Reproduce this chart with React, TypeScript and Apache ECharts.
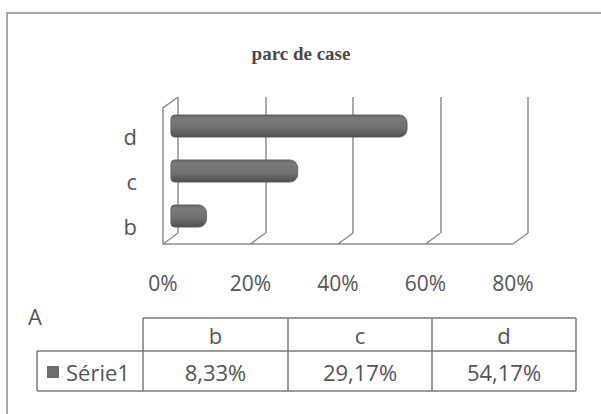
import React, { useEffect, useRef } from "react";
import * as echarts from "echarts";

const chartTitle = "parc de case";
const tableCorner = "A";
const seriesName = "Série1";
const categories = ["b", "c", "d"];
const values = [0.0833, 0.2917, 0.5417];
const axisMin = 0;
const axisMax = 0.8;
const axisInterval = 0.2;

const FONT = "'Open Sans', 'Liberation Sans', sans-serif";
const TXT = "#555555";
const LINE = "#8e8e8e";

const pct = (v: number) => Math.round(v * 100) + "%";
const pct2 = (v: number) => (v * 100).toFixed(2).replace(".", ",") + "%";

export default function App() {
  const ref = useRef<HTMLDivElement>(null);
  useEffect(() => {
    const chart = echarts.init(ref.current!, null, { renderer: "svg" });
    const barGradient = new echarts.graphic.LinearGradient(0, 0, 0, 1, [
      { offset: 0, color: "#676767" },
      { offset: 0.18, color: "#7c7c7c" },
      { offset: 0.6, color: "#6f6f6f" },
      { offset: 1, color: "#505050" },
    ]);
    const hiddenVal = {
      type: "value",
      min: axisMin,
      max: axisMax,
      interval: axisInterval,
      axisLine: { show: false },
      axisTick: { show: false },
      axisLabel: { show: false },
      splitLine: { show: false },
    };
    const hiddenCat = {
      type: "category",
      data: categories,
      axisLine: { show: false },
      axisTick: { show: false },
      axisLabel: { show: false },
      splitLine: { show: false },
    };
    chart.setOption({
      animation: false,
      backgroundColor: "#ffffff",
      title: {
        text: chartTitle,
        left: 296,
        top: 39,
        textAlign: "center",
        textStyle: {
          fontFamily: "'Liberation Serif', 'DejaVu Serif', serif",
          fontWeight: "bold",
          fontSize: 19,
          color: "#4a4a4a",
        },
      },
      grid: [
        { left: 170.5, top: 103.5, width: 350, height: 135 },
        { left: 178, top: 97, width: 350, height: 136 },
        { left: 163, top: 108, width: 350, height: 136 },
        { left: 163, top: 113, width: 350, height: 136 },
      ],
      xAxis: [
        { ...hiddenVal, gridIndex: 0 },
        {
          ...hiddenVal,
          gridIndex: 1,
          splitLine: { show: true, lineStyle: { color: LINE, width: 1.5 } },
        },
        {
          ...hiddenVal,
          gridIndex: 2,
          axisLine: { show: true, lineStyle: { color: LINE, width: 1.5 } },
          axisLabel: {
            show: true,
            margin: 28,
            formatter: (v: number) => pct(v),
            fontFamily: FONT,
            fontSize: 21,
            color: TXT,
          },
        },
        { ...hiddenVal, gridIndex: 3 },
      ],
      yAxis: [
        { ...hiddenCat, gridIndex: 0 },
        { ...hiddenCat, gridIndex: 1 },
        { ...hiddenCat, gridIndex: 2 },
        {
          ...hiddenCat,
          gridIndex: 3,
          axisLabel: {
            show: true,
            margin: 26,
            fontFamily: FONT,
            fontSize: 22,
            color: TXT,
          },
        },
      ],
      series: [
        {
          type: "bar",
          name: seriesName,
          xAxisIndex: 0,
          yAxisIndex: 0,
          data: values,
          barWidth: 23,
          itemStyle: { color: barGradient, borderRadius: [4, 8, 8, 4], borderColor: "#5a5a5a", borderWidth: 0.8 },
        },
      ],
    });

    // 3D wall / floor decorations tied to the axis scales
    const ticks: number[] = [];
    for (let v = axisMin; v <= axisMax + 1e-9; v += axisInterval) ticks.push(v);
    const backY0 = 97, backY1 = 233, frontY0 = 108, frontY1 = 244;
    const g: any[] = [];
    const lineStyle = { stroke: LINE, lineWidth: 1.5, fill: null };
    ticks.forEach((v) => {
      const xb = chart.convertToPixel({ xAxisIndex: 1 }, v) as number;
      const xf = chart.convertToPixel({ xAxisIndex: 2 }, v) as number;
      g.push({ type: "line", shape: { x1: xb, y1: backY1, x2: xf, y2: frontY1 }, style: lineStyle, z: 1 });
    });
    const xb0 = chart.convertToPixel({ xAxisIndex: 1 }, axisMin) as number;
    const xf0 = chart.convertToPixel({ xAxisIndex: 2 }, axisMin) as number;
    g.push({ type: "polyline", shape: { points: [[xf0, frontY1], [xf0, frontY0], [xb0, backY0]] }, style: lineStyle, z: 1 });

    // outer frame
    g.push({ type: "polyline", shape: { points: [[7, 414], [7, 13], [601, 13]] }, style: { stroke: "#8a8a8a", lineWidth: 1.5, fill: null } });

    // data table
    const colX = [143, 288, 432, 576];
    const rowY = [318, 351, 391];
    const leftX = 37;
    const tl = { stroke: "#7a7a7a", lineWidth: 1.5, fill: null };
    g.push({ type: "line", shape: { x1: colX[0], y1: rowY[0], x2: colX[3], y2: rowY[0] }, style: tl });
    g.push({ type: "line", shape: { x1: leftX, y1: rowY[1], x2: colX[3], y2: rowY[1] }, style: tl });
    g.push({ type: "line", shape: { x1: leftX, y1: rowY[2], x2: colX[3], y2: rowY[2] }, style: tl });
    g.push({ type: "line", shape: { x1: leftX, y1: rowY[1], x2: leftX, y2: rowY[2] }, style: tl });
    colX.forEach((x) => g.push({ type: "line", shape: { x1: x, y1: rowY[0], x2: x, y2: rowY[2] }, style: tl }));
    const tfont = (size: number) => ({ fontFamily: FONT, fontSize: size, fill: TXT });
    categories.forEach((c, i) => {
      const cx = (colX[i] + colX[i + 1]) / 2;
      g.push({ type: "text", x: cx, y: (rowY[0] + rowY[1]) / 2, style: { text: c, ...tfont(22), align: "center", verticalAlign: "middle" } });
      g.push({ type: "text", x: cx, y: (rowY[1] + rowY[2]) / 2 + 1, style: { text: pct2(values[i]), ...tfont(22), align: "center", verticalAlign: "middle" } });
    });
    g.push({ type: "rect", shape: { x: 47, y: 366, width: 12, height: 12 }, style: { fill: "#6e6e6e" } });
    g.push({ type: "text", x: 66, y: (rowY[1] + rowY[2]) / 2 + 1, style: { text: seriesName, ...tfont(22), align: "left", verticalAlign: "middle" } });
    g.push({ type: "text", x: 35, y: 316, style: { text: tableCorner, ...tfont(22), align: "center", verticalAlign: "middle" } });

    chart.setOption({ graphic: g });
    return () => chart.dispose();
  }, []);
  return (
    <div
      ref={ref}
      style={{ position: "absolute", left: 0, top: 0, width: 601, height: 414, background: "#fff" }}
    />
  );
}
